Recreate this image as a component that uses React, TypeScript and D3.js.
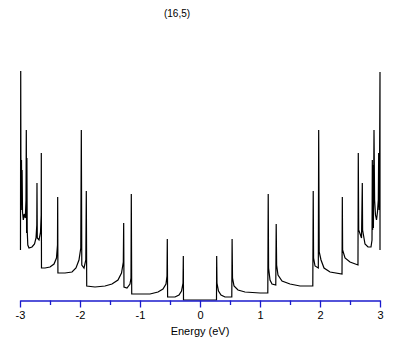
import React, { useRef, useEffect } from 'react';
import * as d3 from 'd3';

// density of states: [energy (eV), DOS (arb.)]
const valenceBand: [number, number][] = [
  [-2.992, 0.5], [-2.988, 2.29], [-2.985, 1.45], [-2.98, 0.9], [-2.975, 1.4],
  [-2.97, 0.95], [-2.965, 1.3], [-2.958, 0.88], [-2.945, 0.8], [-2.93, 0.86],
  [-2.912, 0.82], [-2.9, 1.0], [-2.895, 1.7], [-2.89, 0.67], [-2.885, 1.42],
  [-2.88, 0.7], [-2.87, 0.55], [-2.85, 0.52], [-2.8, 0.53], [-2.758, 0.56],
  [-2.733, 0.62], [-2.72, 0.75], [-2.717, 1.17], [-2.712, 0.62], [-2.683, 0.6],
  [-2.658, 0.68], [-2.647, 0.85], [-2.645, 1.47], [-2.642, 0.32], [-2.583, 0.32],
  [-2.5, 0.33], [-2.433, 0.36], [-2.392, 0.42], [-2.375, 0.55], [-2.372, 1.03],
  [-2.368, 0.27], [-2.25, 0.27], [-2.133, 0.28], [-2.067, 0.32], [-2.017, 0.4],
  [-1.987, 0.52], [-1.978, 1.7], [-1.97, 0.35], [-1.933, 0.32], [-1.903, 0.4],
  [-1.895, 1.09], [-1.888, 0.14], [-1.75, 0.13], [-1.583, 0.14], [-1.467, 0.16],
  [-1.367, 0.2], [-1.308, 0.27], [-1.278, 0.38], [-1.272, 0.77], [-1.267, 0.13],
  [-1.217, 0.12], [-1.167, 0.16], [-1.15, 0.22], [-1.145, 1.06], [-1.138, 0.06],
  [-1.0, 0.06], [-0.833, 0.06], [-0.7, 0.08], [-0.617, 0.11], [-0.567, 0.16],
  [-0.55, 0.24], [-0.545, 0.61], [-0.54, 0.03], [-0.417, 0.03], [-0.35, 0.05],
  [-0.308, 0.09], [-0.283, 0.17], [-0.278, 0.44], [-0.275, 0],
];

const gap: [number, number][] = [[-0.275, 0], [0.275, 0]];

const conductionBand: [number, number][] = [
  [0.275, 0], [0.278, 0.44], [0.283, 0.17], [0.308, 0.09], [0.35, 0.05],
  [0.417, 0.03], [0.53, 0.03], [0.535, 0.61], [0.542, 0.22], [0.567, 0.14],
  [0.633, 0.1], [0.75, 0.08], [1.0, 0.07], [1.13, 0.07], [1.137, 1.06],
  [1.143, 0.32], [1.167, 0.2], [1.2, 0.16], [1.263, 0.15], [1.27, 0.76],
  [1.277, 0.35], [1.3, 0.25], [1.367, 0.19], [1.5, 0.16], [1.667, 0.14],
  [1.88, 0.14], [1.887, 1.09], [1.893, 0.42], [1.917, 0.34], [1.972, 0.32],
  [1.978, 1.7], [1.987, 0.48], [2.017, 0.4], [2.067, 0.32], [2.167, 0.28],
  [2.367, 0.26], [2.372, 1.03], [2.377, 0.5], [2.417, 0.42], [2.5, 0.38],
  [2.633, 0.35], [2.638, 1.47], [2.645, 0.7], [2.692, 0.62], [2.705, 1.17],
  [2.71, 0.7], [2.75, 0.56], [2.8, 0.53], [2.85, 0.53], [2.867, 0.6],
  [2.872, 1.4], [2.877, 0.7], [2.883, 1.35], [2.89, 0.72], [2.9, 1.7],
  [2.91, 1.0], [2.925, 0.85], [2.942, 0.8], [2.958, 0.88], [2.972, 1.0],
  [2.978, 1.47], [2.985, 0.9], [2.993, 1.4], [3.0, 2.28], [3.0, 0.5],
];

const energyTicks = d3.range(-3, 3.01, 0.5);
const title = '(16,5)';
const xLabel = 'Energy (eV)';

const App = () => {
  const svgRef = useRef<SVGSVGElement>(null);

  useEffect(() => {
    const svg = d3.select(svgRef.current);
    svg.selectAll('*').remove();

    const width = 409;
    const height = 345;
    const x = d3.scaleLinear().domain([-3, 3]).range([20, 380]);
    const y = d3.scaleLinear().domain([0, 2.3]).range([300, 70]);

    svg.attr('width', width).attr('height', height);

    const points = [...valenceBand, ...gap.slice(1), ...conductionBand.slice(1)];
    const line = d3
      .line<[number, number]>()
      .x((d) => x(d[0]))
      .y((d) => y(d[1]));

    svg
      .append('path')
      .datum(points)
      .attr('d', line)
      .attr('fill', 'none')
      .attr('stroke', '#000')
      .attr('stroke-width', 1.2)
      .attr('stroke-linejoin', 'miter');

    // x axis (blue)
    const axis = d3
      .axisBottom(x)
      .tickValues(energyTicks)
      .tickSize(7)
      .tickSizeOuter(0)
      .tickPadding(4)
      .tickFormat((d) => (Number.isInteger(+d) ? String(d) : ''));

    const g = svg
      .append('g')
      .attr('transform', `translate(0,${y(0) + 0.5})`)
      .call(axis);
    g.select('.domain').attr('stroke', '#1a1acd').attr('stroke-width', 1.3);
    g.selectAll('.tick line')
      .attr('stroke', '#1a1acd')
      .attr('stroke-width', 1.3)
      .attr('y2', (d: any) => (Number.isInteger(d) ? 7 : 4.5));
    g.selectAll('.tick text')
      .attr('fill', '#000')
      .style('font-family', '"Liberation Sans", Arial, sans-serif')
      .style('font-size', '11px');

    svg
      .append('text')
      .attr('x', 200)
      .attr('y', 335)
      .attr('text-anchor', 'middle')
      .style('font-family', '"Liberation Sans", Arial, sans-serif')
      .style('font-size', '11px')
      .text(xLabel);

    svg
      .append('text')
      .attr('x', 177)
      .attr('y', 17)
      .attr('text-anchor', 'middle')
      .style('font-family', '"Liberation Sans", Arial, sans-serif')
      .style('font-size', '10px')
      .text(title);
  }, []);

  return (
    <div style={{ position: 'absolute', left: 0, top: 0, background: '#fff' }}>
      <svg ref={svgRef} style={{ display: 'block' }} />
    </div>
  );
};

export default App;
